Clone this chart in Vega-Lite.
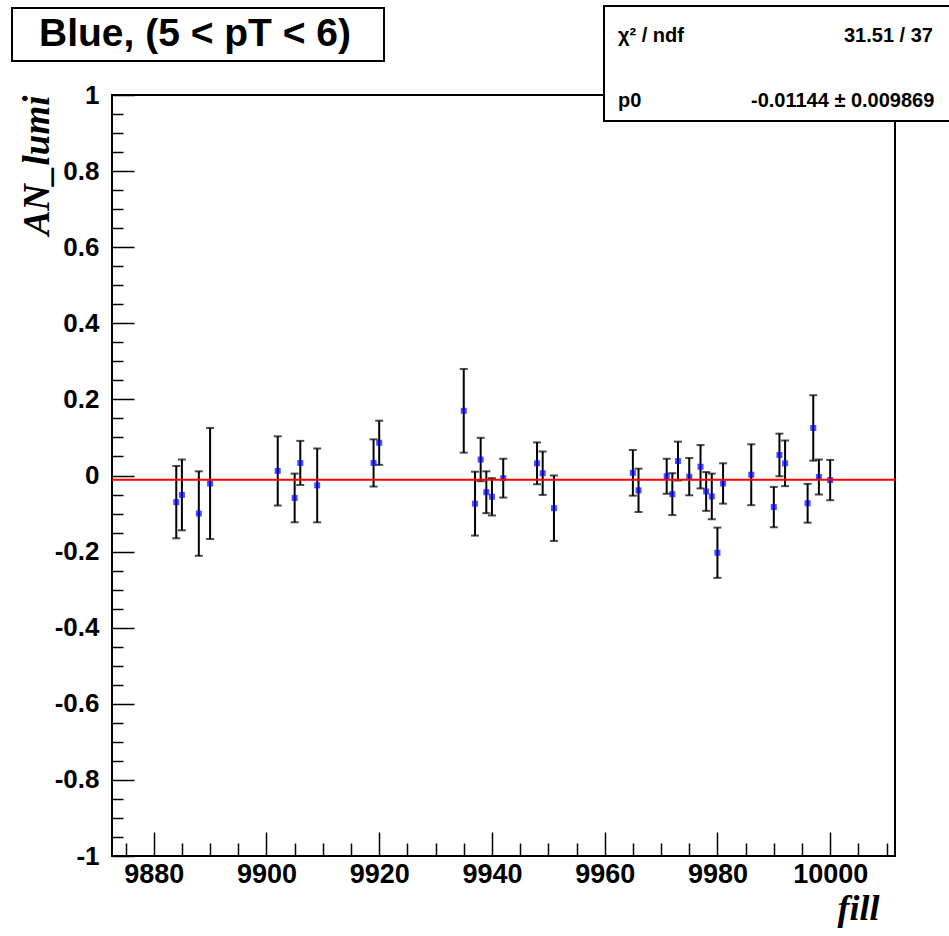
{
  "$schema": "https://vega.github.io/schema/vega-lite/v6.json",
  "width": 783,
  "height": 761,
  "autosize": {"type": "none"},
  "padding": {"left": 112, "top": 95, "right": 54, "bottom": 80},
  "background": "white",
  "datasets": {
    "points": [
      {"fill": 9884, "an": -0.070, "err": 0.095},
      {"fill": 9885, "an": -0.051, "err": 0.093},
      {"fill": 9888, "an": -0.100, "err": 0.111},
      {"fill": 9890, "an": -0.021, "err": 0.146},
      {"fill": 9902, "an": 0.012, "err": 0.091},
      {"fill": 9905, "an": -0.059, "err": 0.064},
      {"fill": 9906, "an": 0.033, "err": 0.058},
      {"fill": 9909, "an": -0.026, "err": 0.097},
      {"fill": 9919, "an": 0.033, "err": 0.062},
      {"fill": 9920, "an": 0.086, "err": 0.058},
      {"fill": 9935, "an": 0.170, "err": 0.110},
      {"fill": 9937, "an": -0.074, "err": 0.084},
      {"fill": 9938, "an": 0.042, "err": 0.057},
      {"fill": 9939, "an": -0.044, "err": 0.055},
      {"fill": 9940, "an": -0.056, "err": 0.049},
      {"fill": 9942, "an": -0.007, "err": 0.051},
      {"fill": 9948, "an": 0.032, "err": 0.055},
      {"fill": 9949, "an": 0.006, "err": 0.057},
      {"fill": 9951, "an": -0.086, "err": 0.086},
      {"fill": 9965, "an": 0.007, "err": 0.060},
      {"fill": 9966, "an": -0.039, "err": 0.057},
      {"fill": 9971, "an": -0.002, "err": 0.046},
      {"fill": 9972, "an": -0.049, "err": 0.055},
      {"fill": 9973, "an": 0.038, "err": 0.051},
      {"fill": 9975, "an": -0.003, "err": 0.049},
      {"fill": 9977, "an": 0.023, "err": 0.057},
      {"fill": 9978, "an": -0.042, "err": 0.051},
      {"fill": 9979, "an": -0.055, "err": 0.060},
      {"fill": 9980, "an": -0.203, "err": 0.066},
      {"fill": 9981, "an": -0.021, "err": 0.053},
      {"fill": 9986, "an": 0.002, "err": 0.080},
      {"fill": 9990, "an": -0.083, "err": 0.053},
      {"fill": 9991, "an": 0.054, "err": 0.056},
      {"fill": 9992, "an": 0.032, "err": 0.060},
      {"fill": 9996, "an": -0.073, "err": 0.051},
      {"fill": 9997, "an": 0.125, "err": 0.086},
      {"fill": 9998, "an": -0.004, "err": 0.046},
      {"fill": 10000, "an": -0.012, "err": 0.053}
    ],
    "fit": [{"p0": -0.01144}],
    "stats": [
      {"k": "χ² / ndf", "v": "31.51 / 37"},
      {"k": "p0", "v": "-0.01144 ± 0.009869"}
    ]
  },
  "resolve": {
    "axis": {"x": "independent", "y": "independent"},
    "scale": {"shape": "independent"},
    "legend": {"shape": "independent"}
  },
  "layer": [
    {
      "data": {"name": "points"},
      "mark": {"type": "errorbar", "ticks": true, "size": 8, "thickness": 2, "color": "black"},
      "encoding": {
        "x": {
          "field": "fill", "type": "quantitative",
          "scale": {"domain": [9872.6, 10011.5], "nice": false, "zero": false},
          "axis": {
            "orient": "bottom",
            "values": [9880, 9900, 9920, 9940, 9960, 9980, 10000],
            "format": "d",
            "offset": -24, "tickSize": 24, "labelPadding": 5,
            "labelFontSize": 27,
            "title": "fill",
            "titleFont": "Liberation Serif", "titleFontStyle": "italic", "titleFontWeight": "bold",
            "titleFontSize": 36, "titleAnchor": "end", "titleX": 767, "titlePadding": 4
          }
        },
        "y": {
          "field": "an", "type": "quantitative",
          "scale": {"domain": [-1, 1], "nice": false, "zero": false},
          "axis": {
            "orient": "left",
            "values": [-1, -0.8, -0.6, -0.4, -0.2, 0, 0.2, 0.4, 0.6, 0.8, 1],
            "labelExpr": "'' + datum.value",
            "offset": -22, "tickSize": 22, "labelPadding": 13,
            "labelFontSize": 26,
            "title": "AN_lumi",
            "titleFont": "Liberation Serif", "titleFontStyle": "italic", "titleFontWeight": "bold",
            "titleFontSize": 37, "titleAnchor": "end", "titlePadding": -2
          }
        },
        "yError": {"field": "err"}
      }
    },
    {
      "data": {"name": "points"},
      "mark": {"type": "square", "size": 36, "strokeWidth": 0},
      "encoding": {
        "x": {
          "field": "fill", "type": "quantitative",
          "scale": {"domain": [9872.6, 10011.5], "nice": false, "zero": false},
          "axis": {
            "orient": "bottom",
            "values": [9875, 9885, 9890, 9895, 9905, 9910, 9915, 9925, 9930, 9935, 9945, 9950, 9955, 9965, 9970, 9975, 9985, 9990, 9995, 10005, 10010],
            "offset": -13, "tickSize": 13, "labels": false, "title": null
          }
        },
        "y": {
          "field": "an", "type": "quantitative",
          "scale": {"domain": [-1, 1], "nice": false, "zero": false},
          "axis": {
            "orient": "left",
            "values": [-0.95, -0.9, -0.85, -0.75, -0.7, -0.65, -0.55, -0.5, -0.45, -0.35, -0.3, -0.25, -0.15, -0.1, -0.05, 0.05, 0.1, 0.15, 0.25, 0.3, 0.35, 0.45, 0.5, 0.55, 0.65, 0.7, 0.75, 0.85, 0.9, 0.95],
            "offset": -11, "tickSize": 11, "labels": false, "title": null
          }
        },
        "fill": {
          "field": "an", "type": "quantitative",
          "scale": {"domain": [-1, 1], "range": ["#0000ff", "#0000ff"]},
          "legend": {
            "type": "gradient",
            "orient": "none", "legendX": -100, "legendY": -87, "direction": "horizontal",
            "title": "Blue, (5 < pT < 6)",
            "titleFont": "Liberation Sans", "titleFontSize": 39, "titleFontWeight": "bold", "titleColor": "black",
            "titleAnchor": "middle", "titlePadding": -13, "titleLimit": 500,
            "gradientLength": 358, "gradientThickness": 1, "gradientOpacity": 0, "gradientStrokeWidth": 0,
            "labelExpr": "''", "labelFontSize": 1, "labelOffset": 0,
            "strokeColor": "black", "fillColor": "white", "padding": 7
          }
        }
      }
    },
    {
      "data": {"name": "fit"},
      "mark": {"type": "rule", "strokeWidth": 2},
      "encoding": {
        "y": {"field": "p0", "type": "quantitative", "axis": null},
        "stroke": {
          "field": "p0", "type": "quantitative",
          "scale": {"domain": [-2, 2], "range": ["#ff0000", "#ff0000"]},
          "legend": {
            "type": "gradient",
            "orient": "none", "legendX": 492, "legendY": -89, "direction": "horizontal",
            "title": null,
            "gradientLength": 347, "gradientThickness": 114, "gradientOpacity": 0, "gradientStrokeWidth": 0,
            "labelExpr": "''", "labelFontSize": 1, "labelOffset": 0,
            "strokeColor": "black", "fillColor": "white", "padding": 0
          }
        }
      }
    },
    {
      "data": {"name": "stats"},
      "mark": {"type": "point", "opacity": 0},
      "encoding": {
        "shape": {
          "field": "k", "type": "nominal",
          "scale": {"domain": ["χ² / ndf", "p0"]},
          "legend": {
            "orient": "none", "legendX": 486, "legendY": -69, "title": null,
            "symbolSize": 0, "symbolStrokeWidth": 0, "symbolOpacity": 0, "labelOffset": 0,
            "labelFont": "Liberation Sans", "labelFontSize": 20, "labelFontWeight": "bold", "labelColor": "black",
            "labelLimit": 400, "rowPadding": 45, "padding": 0
          }
        }
      }
    },
    {
      "data": {"name": "stats"},
      "transform": [{"filter": {"field": "k", "equal": "χ² / ndf"}}],
      "mark": {"type": "point", "opacity": 0},
      "encoding": {
        "shape": {
          "field": "v", "type": "nominal",
          "legend": {
            "orient": "none", "legendX": 712, "legendY": -69, "title": null,
            "symbolSize": 0, "symbolStrokeWidth": 0, "symbolOpacity": 0, "labelOffset": 0,
            "labelFont": "Liberation Sans", "labelFontSize": 20, "labelFontWeight": "bold", "labelColor": "black",
            "labelLimit": 400, "padding": 0
          }
        }
      }
    },
    {
      "data": {"name": "stats"},
      "transform": [{"filter": {"field": "k", "equal": "p0"}}],
      "mark": {"type": "point", "opacity": 0},
      "encoding": {
        "shape": {
          "field": "v", "type": "nominal",
          "legend": {
            "orient": "none", "legendX": 619, "legendY": -4, "title": null,
            "symbolSize": 0, "symbolStrokeWidth": 0, "symbolOpacity": 0, "labelOffset": 0,
            "labelFont": "Liberation Sans", "labelFontSize": 20, "labelFontWeight": "bold", "labelColor": "black",
            "labelLimit": 400, "padding": 0
          }
        }
      }
    }
  ],
  "config": {
    "font": "Liberation Sans",
    "view": {"stroke": "black", "strokeWidth": 2},
    "axis": {
      "labelFont": "Liberation Sans", "labelFontWeight": "bold", "labelColor": "black",
      "tickColor": "black", "tickWidth": 1.5, "domain": false, "grid": false, "titleColor": "black"
    },
    "legend": {"strokeWidth": 2}
  }
}
